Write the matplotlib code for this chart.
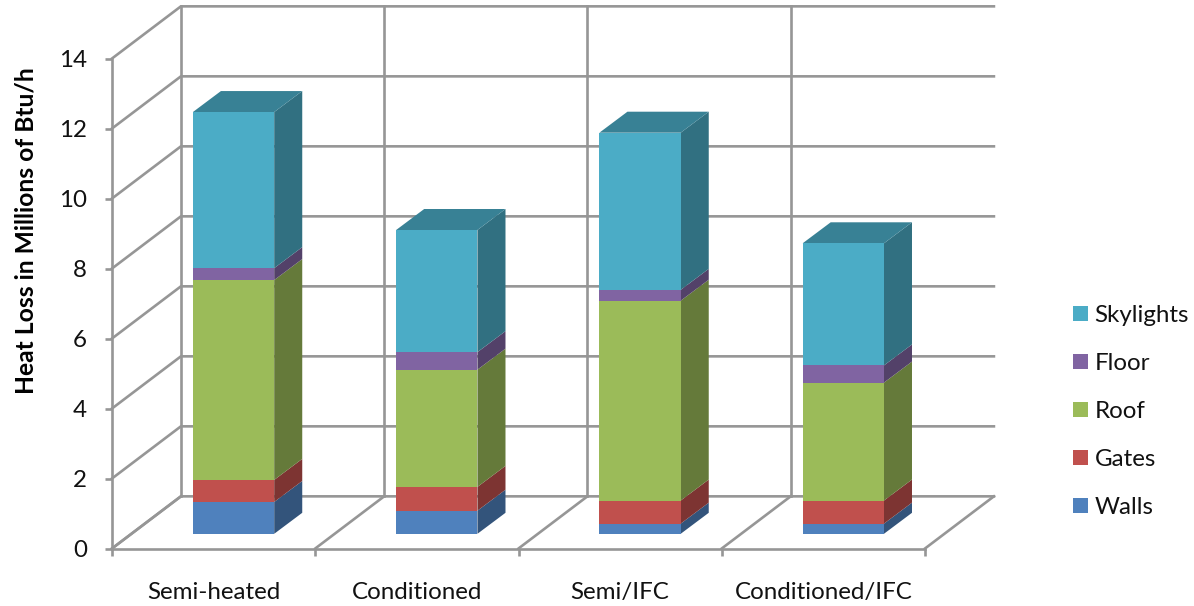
import matplotlib
matplotlib.use('Agg')
import matplotlib.pyplot as plt
from matplotlib.patches import Patch, Polygon
from matplotlib.colors import to_rgb

# Data
categorias = ['Semi-heated', 'Conditioned', 'Semi/IFC', 'Conditioned/IFC']
walls = [0.91, 0.66, 0.29, 0.29]
gates = [0.63, 0.68, 0.66, 0.66]
roof = [5.71, 3.35, 5.71, 3.37]
floor = [0.34, 0.50, 0.31, 0.49]
skylights = [4.46, 3.49, 4.49, 3.49]
series = ['Walls', 'Gates', 'Roof', 'Floor', 'Skylights']
valores = [walls, gates, roof, floor, skylights]
colores = ['#4f81bd', '#c0504d', '#9bbb59', '#8064a2', '#4bacc6']
yticks = [0, 2, 4, 6, 8, 10, 12, 14]

# Depth of the fake 3D box, in axis units
fondo_x, fondo_y = 0.339, 1.49
bar_ancho = 0.40
bar_dx, bar_dy = 0.098, 0.42
prof_x, prof_y = 0.138, 0.60
gris = '#969696'
lw_grid = 1.9
letra = 17.4


def oscurecer(color, f):
    return tuple(c * f for c in to_rgb(color))


plt.rcParams['font.family'] = ['Lato', 'DejaVu Sans']
W, H = 1194, 606
fig = plt.figure(figsize=(W / 100, H / 100), dpi=100)
ax = fig.add_axes([112 / W, 1 - 548.5 / H, 813 / W, 490 / H])
ax.set_xlim(0, 4)
ax.set_ylim(0, 14)
for s in ax.spines.values():
    s.set_visible(False)
ax.patch.set_visible(False)

# Walls and floor of the box
for y in yticks:
    ax.plot([0, fondo_x, 4 + fondo_x], [y, y + fondo_y, y + fondo_y], color=gris, lw=lw_grid,
            clip_on=False, zorder=1)
for x in range(5):
    ax.plot([x, x + fondo_x], [0, fondo_y], color=gris, lw=lw_grid, clip_on=False, zorder=1)
    if x < 4:
        ax.plot([x + fondo_x, x + fondo_x], [fondo_y, 14 + fondo_y], color=gris, lw=lw_grid,
                clip_on=False, zorder=1)
ax.plot([0, 0], [0, 14], color=gris, lw=lw_grid, clip_on=False, zorder=1)
ax.plot([0, 4], [0, 0], color=gris, lw=lw_grid, clip_on=False, zorder=1)

# Stacked bars
for i in range(len(categorias)):
    x0 = i + 0.5 - bar_ancho / 2 + bar_dx
    x1 = x0 + bar_ancho
    base = bar_dy
    for vals, col in zip(valores, colores):
        top = base + vals[i]
        ax.bar(x0, vals[i], bar_ancho, bottom=base, align='edge', color=col, lw=0, zorder=3)
        ax.add_patch(Polygon([(x1, base), (x1 + prof_x, base + prof_y),
                              (x1 + prof_x, top + prof_y), (x1, top)],
                             facecolor=oscurecer(col, 0.65), lw=0, zorder=2.5))
        base = top
    ax.add_patch(Polygon([(x0, base), (x1, base), (x1 + prof_x, base + prof_y),
                          (x0 + prof_x, base + prof_y)],
                         facecolor=oscurecer(colores[-1], 0.75), lw=0, zorder=2.5))

# Axes ticks and labels
ax.set_yticks(yticks)
ax.set_xticks(range(5))
ax.set_xticklabels([])
ax.set_xticks([i + 0.5 for i in range(4)], minor=True)
ax.set_xticklabels(categorias, minor=True, fontsize=letra, color='#111111')
ax.tick_params(axis='y', labelsize=letra, length=5, width=lw_grid, color=gris, pad=13, labelcolor='#111111')
ax.tick_params(axis='x', which='major', length=5, width=lw_grid, color=gris)
ax.tick_params(axis='x', which='minor', length=0, pad=24)
ax.set_ylabel('Heat Loss in Millions of Btu/h', fontsize=17.7, fontweight='bold')
ax.yaxis.set_label_coords(-74 / 813, (548 - 230) / 490)

# Legend
handles = [Patch(color=c, lw=0) for c in colores[::-1]]
ax.legend(handles, series[::-1], loc='center left', bbox_to_anchor=((1073 - 112) / 813, (548 - 411) / 490),
          frameon=False, fontsize=letra, handlelength=0.62, handleheight=0.62, handletextpad=0.27,
          labelspacing=1.12, borderpad=0, borderaxespad=0, labelcolor='#111111')

fig.savefig('out.png', dpi=100)
